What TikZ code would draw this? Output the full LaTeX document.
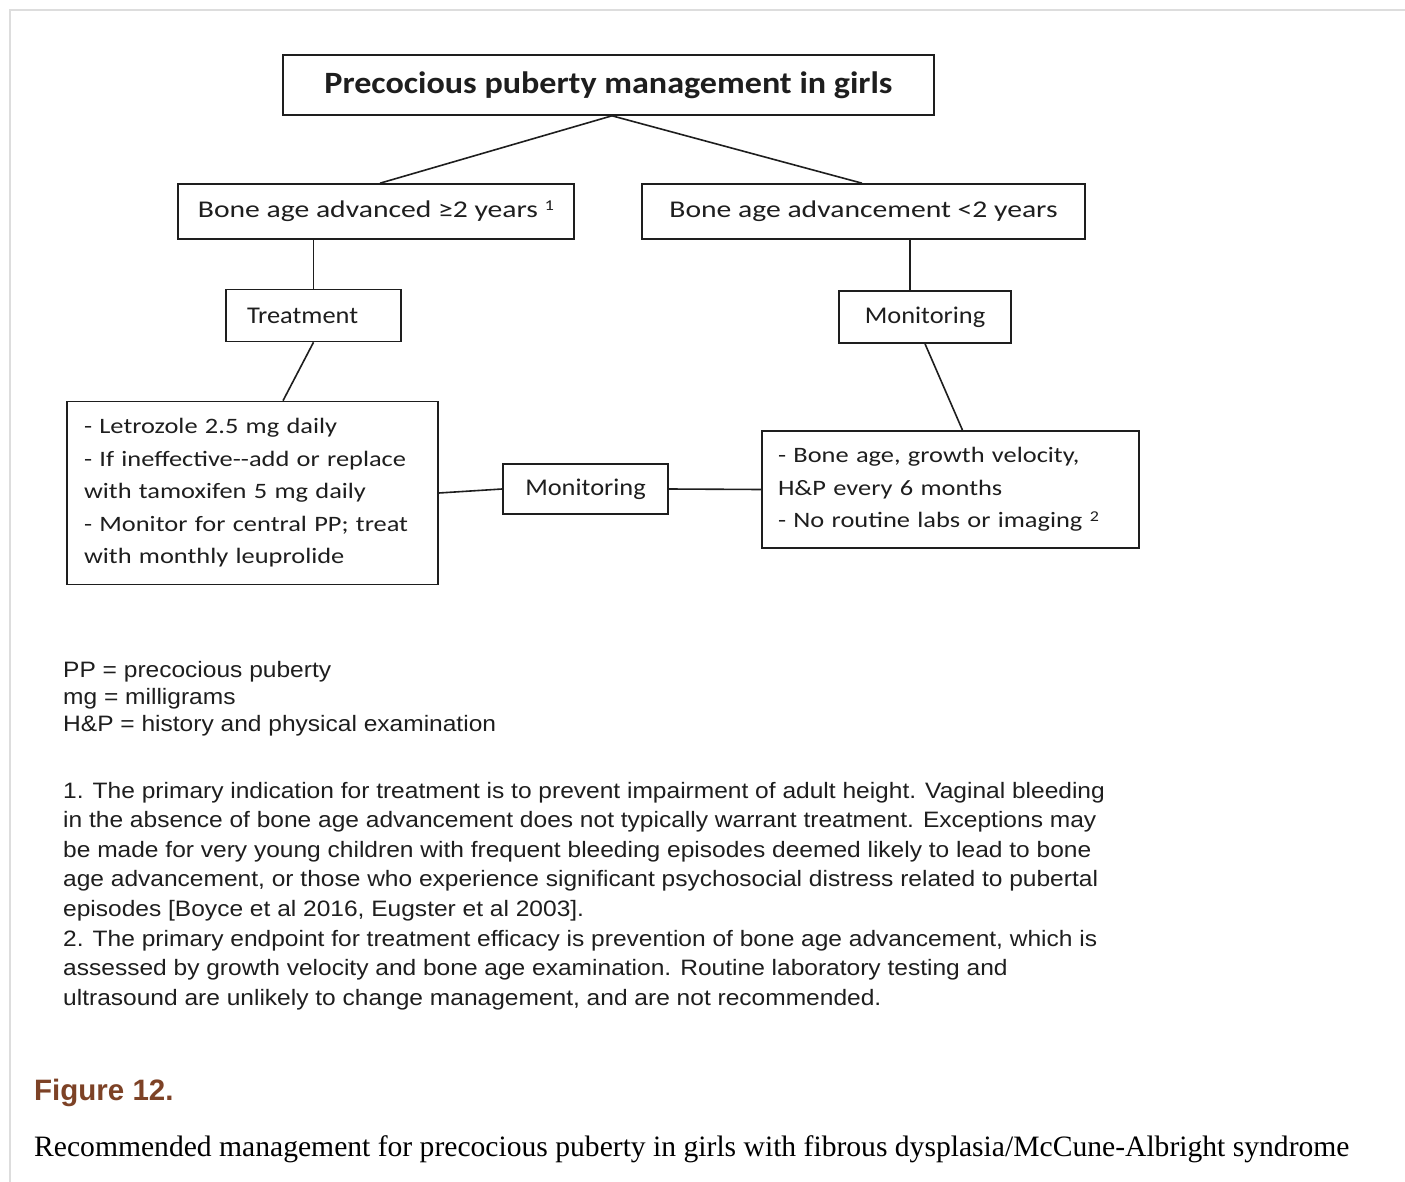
\documentclass[tikz,border=0pt]{standalone}
\usepackage{fontspec}
\usetikzlibrary{calc}
\newfontfamily\diagfont[FakeStretch=1.1]{Carlito}
\newfontfamily\diagwide[FakeStretch=1.235]{Carlito}
\newfontfamily\diaglist[FakeStretch=1.2]{Carlito}
\newfontfamily\notefont[FakeStretch=1.1]{Liberation Sans}
\newfontfamily\capsans{Liberation Sans}
\newfontfamily\capserif{Liberation Serif}
\definecolor{boxline}{RGB}{30,30,30}
\definecolor{inktext}{RGB}{30,30,30}
\definecolor{framegray}{RGB}{221,221,221}
\definecolor{figbrown}{RGB}{125,66,38}
\newcommand\dgbody{\diagfont\fontsize{24}{32.5}\selectfont}
\newcommand\dghead{\diagwide\fontsize{24}{32.5}\selectfont}
\newcommand\dglist{\diaglist\fontsize{22}{32.5}\selectfont}
\newcommand\dgtitle{\diagfont\bfseries\fontsize{31}{36}\selectfont}
\newcommand\ntbody{\notefont\fontsize{22.3}{27.3}\selectfont}
\newcommand\ntpara{\notefont\fontsize{22.3}{29.6}\selectfont}
% footnote marker: a small raised digit
\newcommand\fnmark[2]{\raisebox{#2}{\fontsize{15}{15}\selectfont #1}}
\tikzset{
  box/.style={draw=boxline, line width=1.6pt, fill=white, inner sep=0pt,
    text=inktext, font=\dgbody},
  link/.style={draw=boxline, line width=1.6pt},
  % multi-line notes: the base anchor sits on the last line's baseline
  note/.style={inner sep=0pt, text=inktext, align=left, anchor=base west}
}
\begin{document}
\begin{tikzpicture}[x=1pt, y=-1pt]
\useasboundingbox (0,0) rectangle (1405,1182);
\fill[white] (0,0) rectangle (1405,1182);
% open page frame
\draw[framegray, line width=2pt] (10,1182) -- (10,10) -- (1405,10);

% flowchart boxes
\node[box, font=\dgtitle, minimum width=651pt, minimum height=60pt] (title) at (608.5,85)
  {Precocious puberty management in girls};
\node[box, font=\dghead, minimum width=396pt, minimum height=55pt] (b1) at (376,211.5)
  {Bone age advanced ≥2 years \fnmark{1}{7pt}};
\node[box, font=\dghead, minimum width=443pt, minimum height=55pt] (b2) at (863.5,211.5)
  {Bone age advancement <2 years};
\node[box, inner xsep=21pt, text width=133pt, align=left, minimum height=52pt] (treat) at (313.5,315.5)
  {Treatment};
\node[box, minimum width=172pt, minimum height=52pt] (monR) at (925,317)
  {Monitoring};
\node[box, minimum width=165pt, minimum height=50pt] (monM) at (585.5,489)
  {Monitoring};
\node[box, font=\dglist, inner xsep=17pt, text width=337pt, align=left, minimum height=183pt] (lbig) at (252.5,493)
  {- Letrozole 2.5 mg daily\\
   - If ineffective--add or replace\\
   with tamoxifen 5 mg daily\\
   - Monitor for central PP; treat\\
   with monthly leuprolide};
\node[box, font=\dglist, inner xsep=16pt, text width=345pt, align=left, minimum height=117pt] (rbig) at (950.5,489.5)
  {- Bone age, growth velocity,\\
   H\&P every 6 months\\
   - No routine labs or imaging \fnmark{2}{6pt}};

% connectors
\draw[link] ($(title.south)+(3.5,0)$) -- ($(b1.north)+(4,0)$);
\draw[link] ($(title.south)+(3.5,0)$) -- ($(b2.north)+(-1.5,0)$);
\draw[link] (treat.north |- b1.south) -- (treat.north);
\draw[link] (treat.south) -- ($(lbig.north)+(30.5,0)$);
\draw[link] ($(b2.south)+(46.5,0)$) -- ($(monR.north)+(-15,0)$);
\draw[link] (monR.south) -- ($(rbig.north)+(12,0)$);
\draw[link] (lbig.east) -- (monM.west);
\draw[link] (monM.east) -- (rbig.west);

% abbreviations
\node[note, font=\ntbody] (abbr) at (63,731.6)
  {PP = precocious puberty\\
   mg = milligrams\\
   H\&P = history and physical examination};

% footnotes
\node[note, font=\ntpara] (fn) at (63,1005.2)
  {1. The primary indication for treatment is to prevent impairment of adult height. Vaginal bleeding\\
   in the absence of bone age advancement does not typically warrant treatment. Exceptions may\\
   be made for very young children with frequent bleeding episodes deemed likely to lead to bone\\
   age advancement, or those who experience significant psychosocial distress related to pubertal\\
   episodes [Boyce et al 2016, Eugster et al 2003].\\
   2. The primary endpoint for treatment efficacy is prevention of bone age advancement, which is\\
   assessed by growth velocity and bone age examination. Routine laboratory testing and\\
   ultrasound are unlikely to change management, and are not recommended.};

% caption
\node[note, text=figbrown, font=\capsans\bfseries\fontsize{29.5}{34}\selectfont] (figlabel) at (34,1100.7)
  {Figure 12.};
\node[note, text=black, font=\capserif\fontsize{29.6}{34}\selectfont] (caption) at (34,1156.7)
  {Recommended management for precocious puberty in girls with fibrous dysplasia/McCune-Albright syndrome};
\end{tikzpicture}
\end{document}
